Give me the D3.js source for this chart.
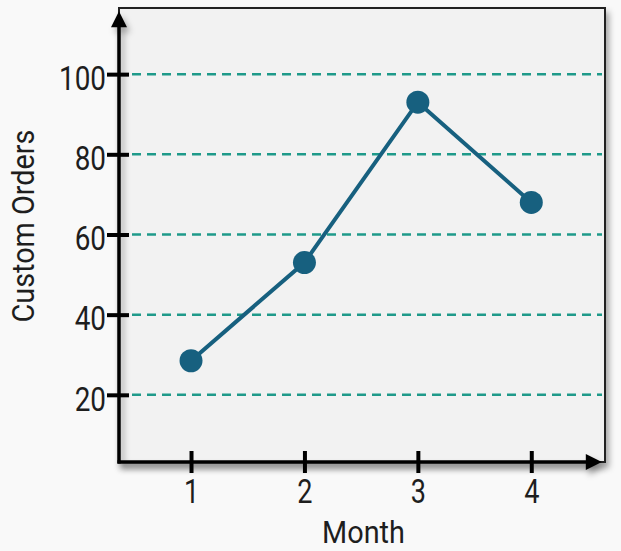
<!DOCTYPE html>
<html>
<head>
    <script src="https://d3js.org/d3.v7.min.js"></script>
    <style>
        body { margin: 0; background: #f9f9f9; }
        text { font-family: Roboto, "Liberation Sans", sans-serif; fill: #1e1e1e; }
    </style>
</head>
<body>
    <div id="chart"></div>
    <script>
        const months = [1, 2, 3, 4];
        const orders = [28.5, 53, 93, 68];
        const yTicks = [20, 40, 60, 80, 100];

        const width = 621;
        const height = 551;

        const svg = d3.select("#chart")
            .append("svg")
            .attr("width", width)
            .attr("height", height);

        const defs = svg.append("defs");
        defs.append("filter")
            .attr("id", "shadow")
            .attr("x", "-10%").attr("y", "-10%")
            .attr("width", "120%").attr("height", "120%")
            .append("feDropShadow")
            .attr("dx", 3).attr("dy", 5)
            .attr("stdDeviation", 3)
            .attr("flood-color", "#000")
            .attr("flood-opacity", 0.35);

        const marker = defs.append("marker")
            .attr("id", "arrow")
            .attr("viewBox", "0 0 10 10")
            .attr("refX", 2).attr("refY", 5)
            .attr("markerUnits", "userSpaceOnUse")
            .attr("markerWidth", 18).attr("markerHeight", 16)
            .attr("orient", "auto");
        marker.append("path").attr("d", "M0,0 L10,5 L0,10 Z").attr("fill", "#000");

        const x = d3.scaleLinear().domain([0.365, 4.65]).range([119, 605]);
        const y = d3.scaleLinear().domain([3.24, 116.5]).range([462, 8]);

        const [x0, x1] = x.range();
        const [y0, y1] = y.range();

        // plot box with shadow
        const frame = svg.append("g").attr("filter", "url(#shadow)");
        frame.append("rect")
            .attr("x", x0).attr("y", y1)
            .attr("width", x1 - x0).attr("height", y0 - y1)
            .attr("fill", "#f2f2f2")
            .attr("stroke", "#222")
            .attr("stroke-width", 2);

        // grid
        svg.append("g")
            .selectAll("line")
            .data(yTicks)
            .join("line")
            .attr("x1", x0 + 13)
            .attr("x2", x1 - 3)
            .attr("y1", d => y(d))
            .attr("y2", d => y(d))
            .attr("stroke", "#1f9a8a")
            .attr("stroke-width", 2.5)
            .attr("stroke-dasharray", "9,6");

        // axes
        const yAxis = svg.append("g")
            .attr("transform", `translate(${x0},0)`)
            .call(d3.axisLeft(y).tickValues(yTicks).tickSize(12).tickPadding(1));
        yAxis.select(".domain").remove();
        yAxis.selectAll(".tick line").attr("x1", 10).attr("stroke", "#000").attr("stroke-width", 4);
        yAxis.selectAll(".tick text")
            .attr("x", -13)
            .attr("dy", "0.45em")
            .style("font-size", "34px");

        const xAxis = svg.append("g")
            .attr("transform", `translate(0,${y0})`)
            .call(d3.axisBottom(x).tickValues(months).tickSize(11).tickFormat(d3.format("d")));
        xAxis.select(".domain").remove();
        xAxis.selectAll(".tick line").attr("y1", -11).attr("stroke", "#000").attr("stroke-width", 4);
        xAxis.selectAll(".tick text")
            .attr("y", 41)
            .attr("dy", null)
            .style("font-size", "33px");

        const axes = svg.append("g").attr("filter", "url(#shadow)");
        axes.append("line")
            .attr("x1", x0).attr("x2", x0)
            .attr("y1", y0 + 1.5).attr("y2", y1 + 16)
            .attr("stroke", "#000").attr("stroke-width", 3.5)
            .attr("marker-end", "url(#arrow)");
        axes.append("line")
            .attr("x1", x0 - 1.5).attr("x2", x1 - 16)
            .attr("y1", y0).attr("y2", y0)
            .attr("stroke", "#000").attr("stroke-width", 3.5)
            .attr("marker-end", "url(#arrow)");

        // series
        const pts = months.map((m, i) => [m, orders[i]]);
        svg.append("path")
            .datum(pts)
            .attr("fill", "none")
            .attr("stroke", "#17607f")
            .attr("stroke-width", 4)
            .attr("d", d3.line().x(d => x(d[0])).y(d => y(d[1])));

        svg.append("g")
            .selectAll("circle")
            .data(pts)
            .join("circle")
            .attr("cx", d => x(d[0]))
            .attr("cy", d => y(d[1]))
            .attr("r", 11.5)
            .attr("fill", "#17607f");

        // titles
        svg.append("text")
            .attr("class", "title")
            .attr("transform", "translate(34,226) rotate(-90)")
            .attr("text-anchor", "middle")
            .style("font-size", "32px")
            .text("Custom Orders");

        svg.append("text")
            .attr("class", "title")
            .attr("x", 363.5)
            .attr("y", 543)
            .attr("text-anchor", "middle")
            .style("font-size", "32px")
            .text("Month");

        // the lettering in the reference is narrower than plain Roboto
        function squeeze(sel, k) {
            sel.each(function () {
                const w = this.getComputedTextLength();
                d3.select(this)
                    .attr("textLength", w * k)
                    .attr("lengthAdjust", "spacingAndGlyphs");
            });
        }
        squeeze(svg.selectAll(".tick text"), 0.82);
        squeeze(svg.selectAll("text.title"), 0.9);
    </script>
</body>
</html>
